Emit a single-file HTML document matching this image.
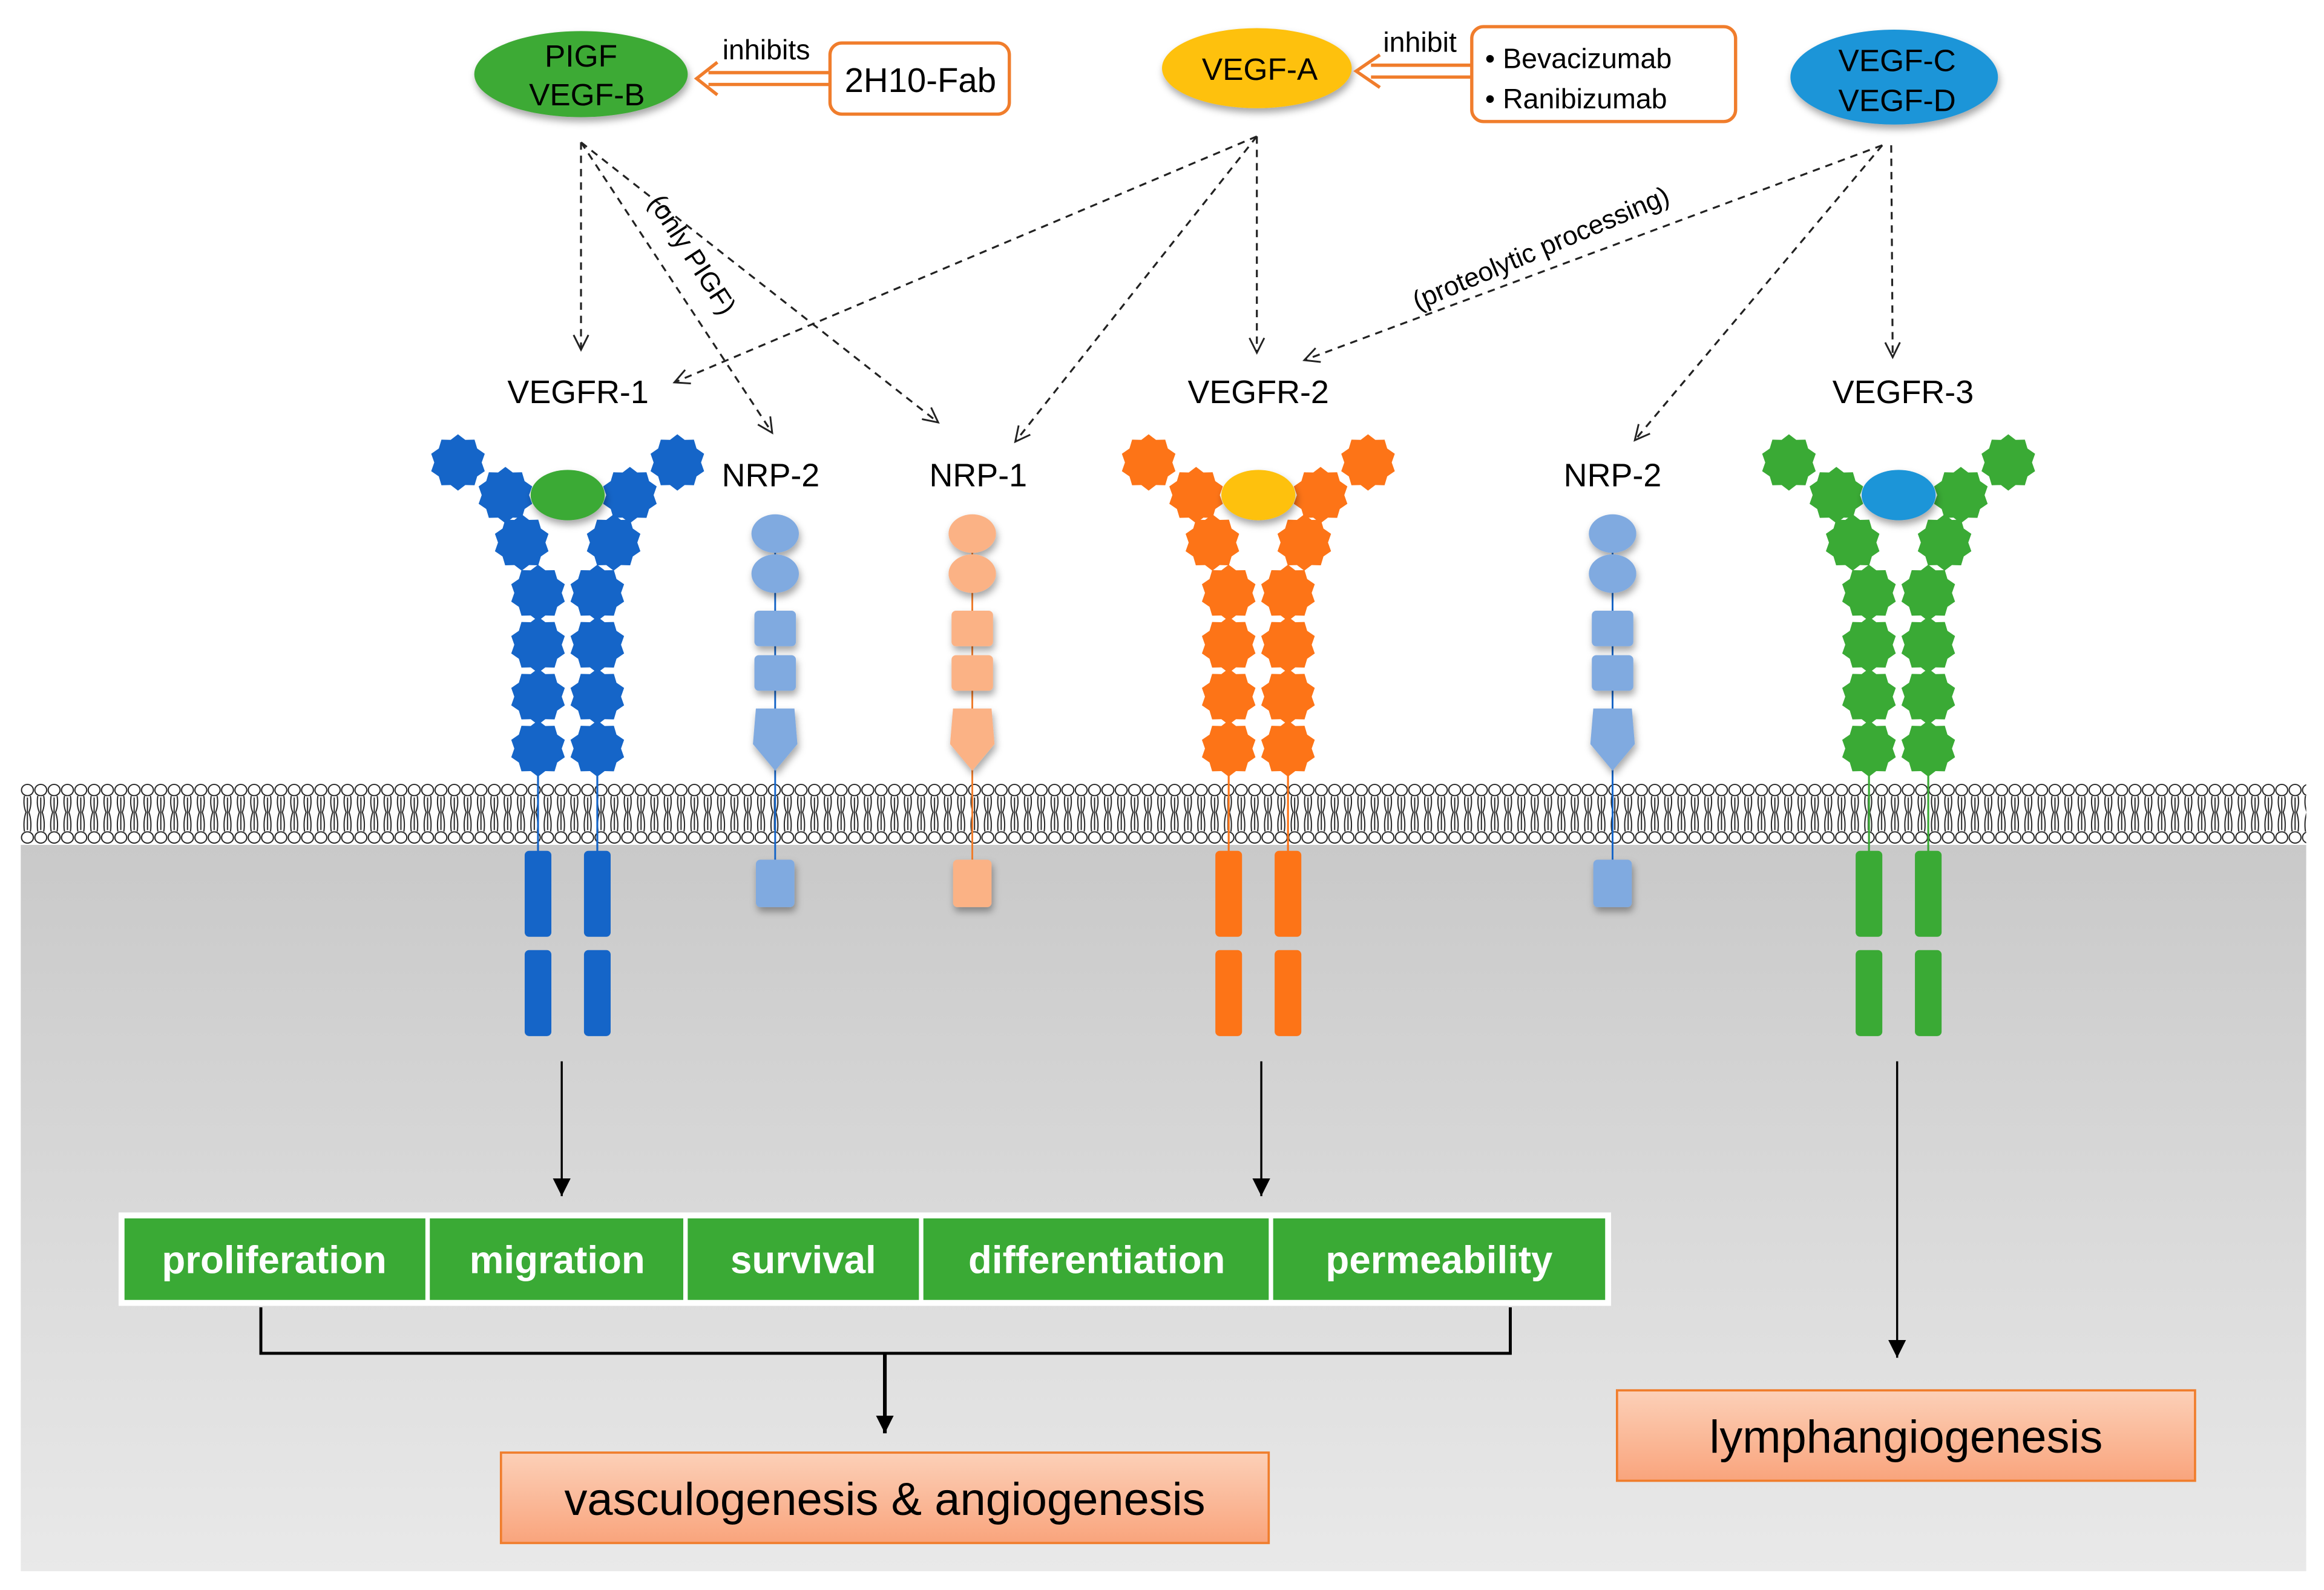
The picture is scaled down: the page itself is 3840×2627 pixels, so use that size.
<!DOCTYPE html>
<html><head><meta charset="utf-8"><style>
html,body{margin:0;padding:0;background:#fff;}
svg{display:block;}
text{font-family:"Liberation Sans",sans-serif;}
</style></head><body>
<svg width="3840" height="2627" viewBox="0 0 1568 1072.7" xmlns="http://www.w3.org/2000/svg">
<defs>
<linearGradient id="cyto" x1="0" y1="0" x2="0" y2="1"><stop offset="0" stop-color="#c9c9c9"/><stop offset="1" stop-color="#e9e9e9"/></linearGradient>
<linearGradient id="ob" x1="0" y1="0" x2="0" y2="1"><stop offset="0" stop-color="#fcd0b8"/><stop offset="1" stop-color="#f9a47c"/></linearGradient>
<pattern id="mem" x="14" y="528" width="9" height="42" patternUnits="userSpaceOnUse">
<ellipse cx="4.5" cy="5" rx="4" ry="3.8" fill="#fff" stroke="#222" stroke-width="0.8"/>
<ellipse cx="4.5" cy="37" rx="4" ry="3.8" fill="#fff" stroke="#222" stroke-width="0.8"/>
<path d="M2.5 9 Q1.5 15 3.5 20 Q1.5 26 2.5 33 M6.5 9 Q7.5 15 5.5 20 Q7.5 26 6.5 33 M4.5 10 L4.5 32" fill="none" stroke="#222" stroke-width="0.8"/>
</pattern>
<path id="st" d="M0,-19 L4.94,-15.22 L11.17,-15.37 L12.94,-9.4 L18.07,-5.87 L16,0 L18.07,5.87 L12.94,9.4 L11.17,15.37 L4.94,15.22 L0,19 L-4.94,15.22 L-11.17,15.37 L-12.94,9.4 L-18.07,5.87 L-16,0 L-18.07,-5.87 L-12.94,-9.4 L-11.17,-15.37 L-4.94,-15.22 Z"/>
<marker id="oa" markerWidth="14" markerHeight="14" refX="11" refY="6" orient="auto" markerUnits="userSpaceOnUse"><path d="M1,1 L11,6 L1,11" fill="none" stroke="#222" stroke-width="1.2"/></marker>
<marker id="sa" markerWidth="14" markerHeight="14" refX="12" refY="6" orient="auto" markerUnits="userSpaceOnUse"><path d="M0,0 L12,6 L0,12 Z" fill="#000"/></marker>
<filter id="sh" x="-30%" y="-30%" width="160%" height="170%"><feDropShadow dx="1" dy="3" stdDeviation="2.5" flood-color="#000" flood-opacity="0.35"/></filter>
</defs>

<rect x="14" y="570" width="1542" height="490" fill="url(#cyto)"/>
<rect x="14" y="528" width="1542" height="42" fill="url(#mem)"/>

<ellipse cx="392" cy="50" rx="72" ry="29" fill="#3daa35" filter="url(#sh)"/>
<text x="392" y="45" font-size="21" text-anchor="middle">PIGF</text>
<text x="396" y="71" font-size="21" text-anchor="middle">VEGF-B</text>
<ellipse cx="848" cy="46" rx="64" ry="27" fill="#fec10e" filter="url(#sh)"/>
<text x="850" y="54" font-size="21" text-anchor="middle">VEGF-A</text>
<ellipse cx="1278" cy="52" rx="70" ry="32" fill="#1e95d8" filter="url(#sh)"/>
<text x="1280" y="48" font-size="21" text-anchor="middle">VEGF-C</text>
<text x="1280" y="75" font-size="21" text-anchor="middle">VEGF-D</text>

<rect x="560" y="29" width="121" height="48" rx="8" fill="#fff" stroke="#f07d2c" stroke-width="2.2"/>
<text x="621" y="62" font-size="23" text-anchor="middle">2H10-Fab</text>
<path d="M560,49 L478,49 M560,57 L478,57 M484,42 L470,53 L484,64" fill="none" stroke="#f07d2c" stroke-width="2.2"/>
<text x="517" y="40" font-size="19" text-anchor="middle">inhibits</text>
<rect x="993" y="18" width="178" height="64" rx="8" fill="#fff" stroke="#f07d2c" stroke-width="2.2"/>
<text x="1002" y="46" font-size="19">•  Bevacizumab</text>
<text x="1002" y="73" font-size="19">•  Ranibizumab</text>
<path d="M993,44 L925,44 M993,52 L925,52 M931,37 L915,48 L931,59" fill="none" stroke="#f07d2c" stroke-width="2.2"/>
<text x="958" y="35" font-size="19" text-anchor="middle">inhibit</text>

<g stroke="#222" stroke-width="1.3" stroke-dasharray="5,4" fill="none" marker-end="url(#oa)">
<line x1="392" y1="96" x2="392" y2="236"/>
<line x1="392" y1="96" x2="521" y2="292"/>
<line x1="392" y1="96" x2="633" y2="285"/>
<line x1="848" y1="92" x2="455" y2="258"/>
<line x1="848" y1="92" x2="685" y2="298"/>
<line x1="848" y1="92" x2="848" y2="238"/>
<line x1="1270" y1="98" x2="880" y2="243"/>
<line x1="1270" y1="98" x2="1103" y2="297"/>
<line x1="1276" y1="98" x2="1277" y2="241"/>
</g>
<text transform="translate(462,175) rotate(57)" font-size="18" text-anchor="middle">(only PIGF)</text>
<text transform="translate(1042,173) rotate(-23)" font-size="18" text-anchor="middle">(proteolytic processing)</text>

<g font-size="22" text-anchor="middle">
<text x="390" y="272">VEGFR-1</text>
<text x="520" y="328">NRP-2</text>
<text x="660" y="328">NRP-1</text>
<text x="849" y="272">VEGFR-2</text>
<text x="1088" y="328">NRP-2</text>
<text x="1284" y="272">VEGFR-3</text>
</g>

<g fill="#1565c8" stroke="#1565c8">
<line x1="363" y1="505" x2="363" y2="575" stroke-width="1.3"/>
<line x1="403" y1="505" x2="403" y2="575" stroke-width="1.3"/>
<g stroke="none">
<use href="#st" x="309" y="312"/><use href="#st" x="457" y="312"/>
<use href="#st" x="341" y="334"/><use href="#st" x="425" y="334"/>
<use href="#st" x="352" y="366"/><use href="#st" x="414" y="366"/>
<use href="#st" x="363" y="400"/><use href="#st" x="403" y="400"/>
<use href="#st" x="363" y="435"/><use href="#st" x="403" y="435"/>
<use href="#st" x="363" y="470"/><use href="#st" x="403" y="470"/>
<use href="#st" x="363" y="505"/><use href="#st" x="403" y="505"/>
<rect x="354" y="574" width="18" height="58" rx="3"/><rect x="394" y="574" width="18" height="58" rx="3"/>
<rect x="354" y="641" width="18" height="58" rx="3"/><rect x="394" y="641" width="18" height="58" rx="3"/>
</g></g>
<ellipse cx="383" cy="334" rx="25" ry="17" fill="#3aaa35" filter="url(#sh)"/>

<g fill="#fd7417" stroke="#fd7417">
<line x1="829" y1="505" x2="829" y2="575" stroke-width="1.3"/>
<line x1="869" y1="505" x2="869" y2="575" stroke-width="1.3"/>
<g stroke="none">
<use href="#st" x="775" y="312"/><use href="#st" x="923" y="312"/>
<use href="#st" x="807" y="334"/><use href="#st" x="891" y="334"/>
<use href="#st" x="818" y="366"/><use href="#st" x="880" y="366"/>
<use href="#st" x="829" y="400"/><use href="#st" x="869" y="400"/>
<use href="#st" x="829" y="435"/><use href="#st" x="869" y="435"/>
<use href="#st" x="829" y="470"/><use href="#st" x="869" y="470"/>
<use href="#st" x="829" y="505"/><use href="#st" x="869" y="505"/>
<rect x="820" y="574" width="18" height="58" rx="3"/><rect x="860" y="574" width="18" height="58" rx="3"/>
<rect x="820" y="641" width="18" height="58" rx="3"/><rect x="860" y="641" width="18" height="58" rx="3"/>
</g></g>
<ellipse cx="849" cy="334" rx="25" ry="17" fill="#fec10e" filter="url(#sh)"/>

<g fill="#3aaa35" stroke="#3aaa35">
<line x1="1261" y1="505" x2="1261" y2="575" stroke-width="1.3"/>
<line x1="1301" y1="505" x2="1301" y2="575" stroke-width="1.3"/>
<g stroke="none">
<use href="#st" x="1207" y="312"/><use href="#st" x="1355" y="312"/>
<use href="#st" x="1239" y="334"/><use href="#st" x="1323" y="334"/>
<use href="#st" x="1250" y="366"/><use href="#st" x="1312" y="366"/>
<use href="#st" x="1261" y="400"/><use href="#st" x="1301" y="400"/>
<use href="#st" x="1261" y="435"/><use href="#st" x="1301" y="435"/>
<use href="#st" x="1261" y="470"/><use href="#st" x="1301" y="470"/>
<use href="#st" x="1261" y="505"/><use href="#st" x="1301" y="505"/>
<rect x="1252" y="574" width="18" height="58" rx="3"/><rect x="1292" y="574" width="18" height="58" rx="3"/>
<rect x="1252" y="641" width="18" height="58" rx="3"/><rect x="1292" y="641" width="18" height="58" rx="3"/>
</g></g>
<ellipse cx="1281" cy="334" rx="25" ry="17" fill="#1e95d8" filter="url(#sh)"/>

<g fill="#80aae0">
<line x1="523" y1="370" x2="523" y2="580" stroke="#1565c8" stroke-width="1.2"/>
<g filter="url(#sh)">
<ellipse cx="523" cy="360" rx="16" ry="13"/><ellipse cx="523" cy="387" rx="16" ry="13"/>
<rect x="509" y="412" width="28" height="24" rx="3"/><rect x="509" y="442" width="28" height="24" rx="3"/>
<path d="M510,478 L536,478 L538,502 L523,520 L508,502 Z"/>
<rect x="510" y="580" width="26" height="32" rx="3"/></g></g>
<g fill="#fbb285">
<line x1="656" y1="370" x2="656" y2="580" stroke="#f07d2c" stroke-width="1.2"/>
<g filter="url(#sh)">
<ellipse cx="656" cy="360" rx="16" ry="13"/><ellipse cx="656" cy="387" rx="16" ry="13"/>
<rect x="642" y="412" width="28" height="24" rx="3"/><rect x="642" y="442" width="28" height="24" rx="3"/>
<path d="M643,478 L669,478 L671,502 L656,520 L641,502 Z"/>
<rect x="643" y="580" width="26" height="32" rx="3"/></g></g>
<g fill="#80aae0">
<line x1="1088" y1="370" x2="1088" y2="580" stroke="#1565c8" stroke-width="1.2"/>
<g filter="url(#sh)">
<ellipse cx="1088" cy="360" rx="16" ry="13"/><ellipse cx="1088" cy="387" rx="16" ry="13"/>
<rect x="1074" y="412" width="28" height="24" rx="3"/><rect x="1074" y="442" width="28" height="24" rx="3"/>
<path d="M1075,478 L1101,478 L1103,502 L1088,520 L1073,502 Z"/>
<rect x="1075" y="580" width="26" height="32" rx="3"/></g></g>

<g stroke="#000" stroke-width="1.4" marker-end="url(#sa)">
<line x1="379" y1="716" x2="379" y2="807"/>
<line x1="851" y1="716" x2="851" y2="807"/>
<line x1="1280" y1="716" x2="1280" y2="916"/>
</g>

<rect x="80" y="818" width="1007" height="63" fill="#fff"/>
<g fill="#3aaa35">
<rect x="84" y="822" width="203" height="55"/>
<rect x="290" y="822" width="171" height="55"/>
<rect x="464" y="822" width="156" height="55"/>
<rect x="623" y="822" width="233" height="55"/>
<rect x="859" y="822" width="224" height="55"/>
</g>
<g fill="#fff" font-size="26" font-weight="bold" text-anchor="middle">
<text x="185" y="859">proliferation</text>
<text x="376" y="859">migration</text>
<text x="542" y="859">survival</text>
<text x="740" y="859">differentiation</text>
<text x="971" y="859">permeability</text>
</g>
<path d="M176,882 L176,913 L1019,913 L1019,882" fill="none" stroke="#000" stroke-width="2"/>
<line x1="597" y1="913" x2="597" y2="967" stroke="#000" stroke-width="2.5" marker-end="url(#sa)"/>

<rect x="338" y="980" width="518" height="61" fill="url(#ob)" stroke="#f07d2c" stroke-width="1.5"/>
<text x="597" y="1022" font-size="31" text-anchor="middle">vasculogenesis &amp; angiogenesis</text>
<rect x="1091" y="938" width="390" height="61" fill="url(#ob)" stroke="#f07d2c" stroke-width="1.5"/>
<text x="1286" y="980" font-size="31" text-anchor="middle">lymphangiogenesis</text>
</svg>
</body></html>
